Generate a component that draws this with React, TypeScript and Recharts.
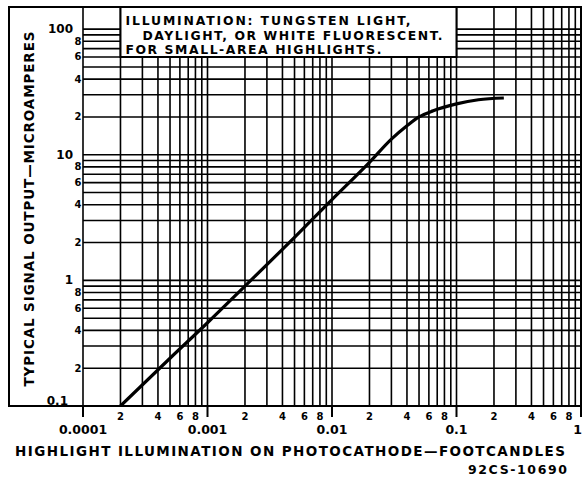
import { LineChart, Line, XAxis, YAxis, CartesianGrid, ReferenceArea } from 'recharts';

// curve (footcandles -> microamperes)
const illumination = [0.0002, 0.0005, 0.001, 0.002, 0.005, 0.01, 0.02, 0.03, 0.04, 0.05, 0.065, 0.1, 0.15, 0.24];
const signalOutput = [0.1, 0.24, 0.46, 0.9, 2.2, 4.4, 8.7, 13.3, 17, 20, 22.4, 25.4, 27.4, 28.3];

// log grid
const xDecades = [0.0001, 0.001, 0.01, 0.1, 1];
const xDecadeLabels = ['0.0001', '0.001', '0.01', '0.1', '1'];
const yDecades = [0.1, 1, 10, 100];
const yDecadeLabels = ['0.1', '1', '10', '100'];
const mantissas = [1, 2, 3, 4, 5, 6, 7, 8, 9];
const minorLabels = [2, 4, 6, 8];

const noteLines = ['ILLUMINATION: TUNGSTEN LIGHT,', 'DAYLIGHT, OR WHITE FLUORESCENT.', 'FOR SMALL-AREA HIGHLIGHTS.'];
const xTitle = 'HIGHLIGHT  ILLUMINATION  ON  PHOTOCATHODE\u2014FOOTCANDLES';
const yTitle = 'TYPICAL  SIGNAL  OUTPUT\u2014MICROAMPERES';
const drawingNo = '92CS-10690';

const data = illumination.map((x, i) => ({ x, y: signalOutput[i] }));
const xTicks = [...xDecades.slice(0, -1).flatMap(d => mantissas.map(m => d * m)), xDecades[xDecades.length - 1]];
const yTicks = [...yDecades.slice(0, -1).flatMap(d => mantissas.map(m => d * m)), yDecades[yDecades.length - 1]];

const FONT = "'DejaVu Sans', sans-serif";

function split(v: number) {
    const p = Math.floor(Math.log10(v) + 1e-9);
    return { p, m: Math.round(v / Math.pow(10, p)) };
}

function XTick({ x, y, payload }: any) {
    const { p, m } = split(payload.value);
    if (m === 1) {
        const idx = xDecades.findIndex(d => Math.abs(Math.log10(d) - p) < 1e-6);
        const last = idx === xDecades.length - 1;
        return (
            <g>
                <line x1={x} x2={x} y1={y} y2={y + 11} stroke="#000" strokeWidth={2} />
                <text x={last ? x + 1 : x} y={y + 28} textAnchor={last ? 'end' : 'middle'} fontSize={12.5} fontWeight="bold" fontFamily={FONT} fill="#000">
                    {xDecadeLabels[idx]}
                </text>
            </g>
        );
    }
    if (minorLabels.includes(m)) {
        return (
            <text x={x} y={y + 14} textAnchor="middle" fontSize={10} fontWeight="bold" fontFamily={FONT} fill="#000">
                {m}
            </text>
        );
    }
    return <g />;
}

function YTick({ x, y, payload }: any) {
    const { p, m } = split(payload.value);
    if (m === 1) {
        const idx = yDecades.findIndex(d => Math.abs(Math.log10(d) - p) < 1e-6);
        const bottom = idx === 0;
        return (
            <text x={x - (bottom ? 15 : 10)} y={y - (bottom ? 5 : 0)} textAnchor="end" dominantBaseline="central"
                fontSize={12} fontWeight="bold" fontFamily={FONT} fill="#000">
                {yDecadeLabels[idx]}
            </text>
        );
    }
    if (minorLabels.includes(m)) {
        return (
            <text x={x - 5} y={y} textAnchor="middle" dominantBaseline="central" fontSize={10} fontWeight="bold" fontFamily={FONT} fill="#000">
                {m}
            </text>
        );
    }
    return <g />;
}

function NoteText(props: any) {
    const vb = props.viewBox || { x: 0, y: 0 };
    const style = { fontSize: 12.4, fontWeight: 'bold' as const, fontFamily: FONT, fill: '#000' };
    return (
        <g>
            <text x={vb.x + 5} y={vb.y + 18} textLength={285} lengthAdjust="spacing" {...style}>{noteLines[0]}</text>
            <text x={vb.x + 22} y={vb.y + 32.5} textLength={300} lengthAdjust="spacing" {...style}>{noteLines[1]}</text>
            <text x={vb.x + 5} y={vb.y + 47} textLength={256} lengthAdjust="spacing" {...style}>{noteLines[2]}</text>
        </g>
    );
}

export default function App() {
    return (
        <div style={{ position: 'absolute', left: 0, top: 0, width: 583, height: 479, background: '#fff' }}>
            <LineChart width={583} height={479} data={data} margin={{ top: 7, right: 2, bottom: 0, left: 0 }}>
                <CartesianGrid stroke="#000" strokeWidth={1.6} />
                <XAxis
                    dataKey="x"
                    type="number"
                    scale="log"
                    domain={[0.0001, 1]}
                    allowDataOverflow
                    ticks={xTicks}
                    interval={0}
                    height={73}
                    axisLine={false}
                    tickLine={false}
                    tickSize={0}
                    tickMargin={0}
                    tick={<XTick />}
                />
                <YAxis
                    type="number"
                    scale="log"
                    domain={[0.1, 150]}
                    allowDataOverflow
                    ticks={yTicks}
                    interval={0}
                    width={83}
                    axisLine={false}
                    tickLine={false}
                    tickSize={0}
                    tickMargin={0}
                    tick={<YTick />}
                />
                <ReferenceArea
                    x1={0.0002}
                    x2={0.1}
                    y1={60}
                    y2={150}
                    fill="#fff"
                    fillOpacity={1}
                    stroke="#000"
                    strokeWidth={2}
                    label={(p: any) => <NoteText {...p} />}
                />
                <Line
                    dataKey="y"
                    type="monotone"
                    stroke="#000"
                    strokeWidth={3.2}
                    dot={false}
                    isAnimationActive={false}
                />
            </LineChart>
            <svg width={583} height={479} style={{ position: 'absolute', left: 0, top: 0, pointerEvents: 'none' }}>
                <rect x={9} y={7} width={572} height={399} fill="none" stroke="#000" strokeWidth={2} />
                <text x={290} y={456} textAnchor="middle" textLength={550} lengthAdjust="spacing"
                    fontSize={13.5} fontWeight="bold" fontFamily={FONT} fill="#000">{xTitle}</text>
                <text x={567} y={474} textAnchor="end" textLength={99} lengthAdjust="spacing"
                    fontSize={12.5} fontWeight="bold" fontFamily={FONT} fill="#000">{drawingNo}</text>
                <text transform="translate(34 209) rotate(-90)" textAnchor="middle" textLength={355} lengthAdjust="spacing"
                    fontSize={13.5} fontWeight="bold" fontFamily={FONT} fill="#000">{yTitle}</text>
            </svg>
        </div>
    );
}
